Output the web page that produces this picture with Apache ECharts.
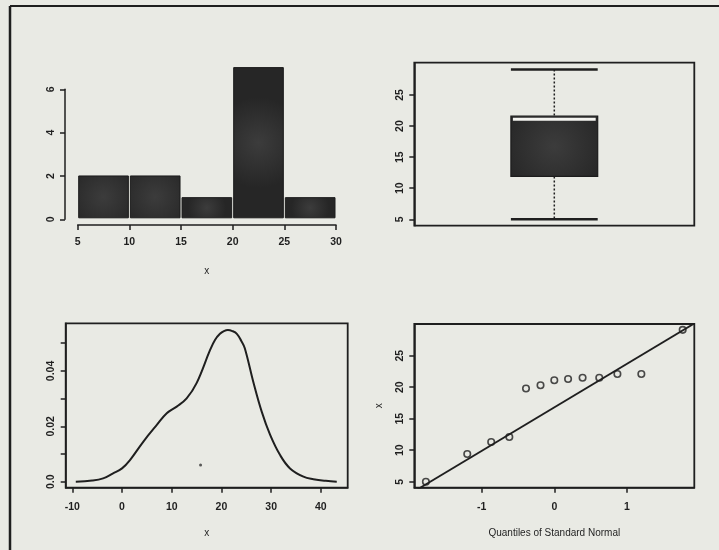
<!DOCTYPE html>
<html>
<head>
<meta charset="utf-8">
<script src="https://cdn.jsdelivr.net/npm/echarts@6/dist/echarts.min.js"></script>
<style>
html,body{margin:0;padding:0;background:#e9eae4;}
#c{width:719px;height:550px;}
</style>
</head>
<body>
<div id="c"></div>
<script>
// ---- Data ----
// Histogram
var binStarts = [5, 10, 15, 20, 25];
var binEnds   = [10, 15, 20, 25, 30];
var binCounts = [2, 2, 1, 7, 1];
var histXTicks = [5, 10, 15, 20, 25, 30];
var histYTicks = [0, 2, 4, 6];

// Boxplot: [min, lower hinge, median, upper hinge, max]
var boxStats = [5, 11.9, 21.1, 21.6, 29.1];
var boxYTicks = [5, 10, 15, 20, 25];

// Density estimate (x, density)
var densX = [-9.3, -6, -3.8, -1.8, 0, 1.6, 4.3, 7, 9, 11, 13, 15, 17.7, 18.7, 19.7, 20.5, 21.3, 22.2, 23.1, 24, 24.7, 26.4, 28.1, 29.8, 31.8, 33.8, 36.5, 38.5, 41, 43.2];
var densY = [0, 0.0004, 0.0012, 0.003, 0.0048, 0.0078, 0.0145, 0.0205, 0.0247, 0.0271, 0.0301, 0.0356, 0.0475, 0.0512, 0.0534, 0.0544, 0.0548, 0.0544, 0.0534, 0.0508, 0.0482, 0.0361, 0.0253, 0.0169, 0.0096, 0.0048, 0.0018, 0.0009, 0.0003, 0];
var densXTicks = [-10, 0, 10, 20, 30, 40];
var densYTicks = [0, 0.01, 0.02, 0.03, 0.04, 0.05];
var densYLabels = [0, 0.02, 0.04];
var strayDots = [[15.8, 0.006]];

// Normal QQ plot
var qqTheo = [-1.77, -1.2, -0.87, -0.62, -0.39, -0.19, 0, 0.19, 0.39, 0.62, 0.87, 1.2, 1.77];
var qqSample = [5, 9.4, 11.3, 12.1, 19.8, 20.3, 21.1, 21.3, 21.5, 21.5, 22.1, 22.1, 29.1];
var qqLineX = [-1.93, 1.93];
var qqLineY = [3.48, 30.12];
var qqXTicks = [-1, 0, 1];
var qqYTicks = [5, 10, 15, 20, 25];

// ---- Chart ----
var ink = '#1f1f1f';
var font = 'Liberation Sans';
var darkFill = {
  type: 'radial', x: 0.5, y: 0.5, r: 0.9,
  colorStops: [{offset: 0, color: '#3c3c3c'}, {offset: 1, color: '#262626'}]
};
function tickLabel(extra) {
  var o = {color: ink, fontFamily: font, fontSize: 10.5, fontWeight: 'bold'};
  for (var k in extra) o[k] = extra[k];
  return o;
}
var tick = {show: true, length: 5, lineStyle: {color: ink, width: 1.5}};
var axLine = {show: true, onZero: false, lineStyle: {color: ink, width: 1.5}};
var frame = {show: true, borderColor: ink, borderWidth: 1.8, backgroundColor: 'transparent'};

var histData = binStarts.map(function (s, i) { return [s, binEnds[i], binCounts[i]]; });
var densData = densX.map(function (x, i) { return [x, densY[i]]; });
var qqData = qqTheo.map(function (q, i) { return [q, qqSample[i]]; });
var qqLineData = qqLineX.map(function (q, i) { return [q, qqLineY[i]]; });

var chart = echarts.init(document.getElementById('c'), null, {renderer: 'canvas'});
chart.setOption({
  backgroundColor: '#e9eae4',
  animation: false,
  graphic: [
    {type: 'line', shape: {x1: 10, y1: 6, x2: 719, y2: 6}, style: {stroke: ink, lineWidth: 2.2}},
    {type: 'line', shape: {x1: 10, y1: 6, x2: 10, y2: 550}, style: {stroke: ink, lineWidth: 2.5}}
  ],
  grid: [
    {left: 77.7, top: 67.6, width: 258.3, height: 151.7},
    {left: 77.7, top: 89.3, width: 258.3, height: 130},
    Object.assign({left: 414.3, top: 62.7, width: 280, height: 163}, frame),
    Object.assign({left: 65.7, top: 323.3, width: 282, height: 164.4}, frame),
    Object.assign({left: 414.3, top: 324, width: 280, height: 163.7}, frame)
  ],
  xAxis: [
    {gridIndex: 0, type: 'value', min: 5, max: 30, interval: 5, offset: 5.7,
     axisLine: axLine, axisTick: tick, splitLine: {show: false},
     axisLabel: tickLabel({margin: 12, customValues: histXTicks}),
     name: 'x', nameLocation: 'middle', nameGap: 41,
     nameTextStyle: {color: ink, fontFamily: font, fontSize: 10}},
    {gridIndex: 1, type: 'value', min: 5, max: 30, show: false},
    {gridIndex: 2, type: 'value', min: 0, max: 1, show: false},
    {gridIndex: 3, type: 'value', min: -11.33, max: 45.4,
     axisLine: axLine, splitLine: {show: false},
     axisTick: Object.assign({customValues: densXTicks}, tick),
     axisLabel: tickLabel({margin: 14, customValues: densXTicks}),
     name: 'x', nameLocation: 'middle', nameGap: 40.6,
     nameTextStyle: {color: ink, fontFamily: font, fontSize: 10}},
    {gridIndex: 4, type: 'value', min: -1.93, max: 1.93,
     axisLine: axLine, splitLine: {show: false},
     axisTick: Object.assign({customValues: qqXTicks}, tick),
     axisLabel: tickLabel({margin: 14, customValues: qqXTicks}),
     name: 'Quantiles of Standard Normal', nameLocation: 'middle', nameGap: 40.6,
     nameTextStyle: {color: ink, fontFamily: font, fontSize: 10}}
  ],
  yAxis: [
    {gridIndex: 0, type: 'value', min: 0, max: 7, show: false},
    {gridIndex: 1, type: 'value', min: 0, max: 6, interval: 2, offset: 12.7,
     axisLine: axLine, axisTick: tick, splitLine: {show: false},
     axisLabel: tickLabel({rotate: 90, margin: 8, customValues: histYTicks})},
    {gridIndex: 2, type: 'value', min: 3.97, max: 30.2,
     axisLine: axLine, splitLine: {show: false},
     axisTick: Object.assign({customValues: boxYTicks}, tick),
     axisLabel: tickLabel({rotate: 90, margin: 9, customValues: boxYTicks})},
    {gridIndex: 3, type: 'value', min: -0.00217, max: 0.0572,
     axisLine: axLine, splitLine: {show: false},
     axisTick: Object.assign({customValues: densYTicks}, tick),
     axisLabel: tickLabel({rotate: 90, margin: 9, customValues: densYLabels,
       formatter: function (v) { return v === 0 ? '0.0' : String(+v.toFixed(2)); }})},
    {gridIndex: 4, type: 'value', min: 4.05, max: 30.03,
     axisLine: axLine, splitLine: {show: false},
     axisTick: Object.assign({customValues: qqYTicks}, tick),
     axisLabel: tickLabel({rotate: 90, margin: 9, customValues: qqYTicks}),
     name: 'x', nameLocation: 'middle', nameGap: 30, nameRotate: 90,
     nameTextStyle: {color: ink, fontFamily: font, fontSize: 10}}
  ],
  series: [
    {type: 'custom', xAxisIndex: 0, yAxisIndex: 0, data: histData,
     renderItem: function (params, api) {
       var p0 = api.coord([api.value(0), api.value(2)]);
       var p1 = api.coord([api.value(1), 0]);
       return {type: 'rect',
         shape: {x: p0[0] + 1, y: p0[1], width: p1[0] - p0[0] - 2, height: p1[1] - p0[1] - 1.5},
         style: {fill: darkFill, stroke: '#1c1c1c', lineWidth: 1}};
     }},
    {type: 'custom', xAxisIndex: 2, yAxisIndex: 2, data: [[0.5].concat(boxStats)],
     renderItem: function (params, api) {
       var c = api.value(0), hw = 0.155;
       var lo = api.value(1), q1 = api.value(2), md = api.value(3), q3 = api.value(4), hi = api.value(5);
       var bl = api.coord([c - hw, q3]), br = api.coord([c + hw, q1]);
       var cx = api.coord([c, 0])[0];
       var yLo = api.coord([c, lo])[1], yHi = api.coord([c, hi])[1];
       var yQ1 = api.coord([c, q1])[1], yQ3 = api.coord([c, q3])[1], yMd = api.coord([c, md])[1];
       var xl = bl[0], xr = br[0];
       return {type: 'group', children: [
         {type: 'line', shape: {x1: cx, y1: yHi, x2: cx, y2: yQ3}, style: {stroke: ink, lineWidth: 1.5, lineDash: [2, 2]}},
         {type: 'line', shape: {x1: cx, y1: yQ1, x2: cx, y2: yLo}, style: {stroke: ink, lineWidth: 1.5, lineDash: [2, 2]}},
         {type: 'line', shape: {x1: xl, y1: yHi, x2: xr, y2: yHi}, style: {stroke: ink, lineWidth: 2.5}},
         {type: 'line', shape: {x1: xl, y1: yLo, x2: xr, y2: yLo}, style: {stroke: ink, lineWidth: 2.5}},
         {type: 'rect', shape: {x: xl, y: yQ3, width: xr - xl, height: yQ1 - yQ3},
          style: {fill: darkFill, stroke: '#1c1c1c', lineWidth: 1.2}},
         {type: 'line', shape: {x1: xl + 2, y1: yMd, x2: xr - 2, y2: yMd}, style: {stroke: '#f4f4f0', lineWidth: 3}}
       ]};
     }},
    {type: 'line', xAxisIndex: 3, yAxisIndex: 3, data: densData, smooth: 0.4,
     showSymbol: false, lineStyle: {color: ink, width: 2}},
    {type: 'scatter', xAxisIndex: 3, yAxisIndex: 3, data: strayDots, symbolSize: 3,
     itemStyle: {color: '#333'}},
    {type: 'line', xAxisIndex: 4, yAxisIndex: 4, data: qqLineData, showSymbol: false, clip: true,
     lineStyle: {color: ink, width: 1.8}},
    {type: 'scatter', xAxisIndex: 4, yAxisIndex: 4, data: qqData, symbol: 'circle', symbolSize: 6.5,
     itemStyle: {color: 'rgba(0,0,0,0)', borderColor: ink, borderWidth: 1.6}}
  ]
});
</script>
</body>
</html>
